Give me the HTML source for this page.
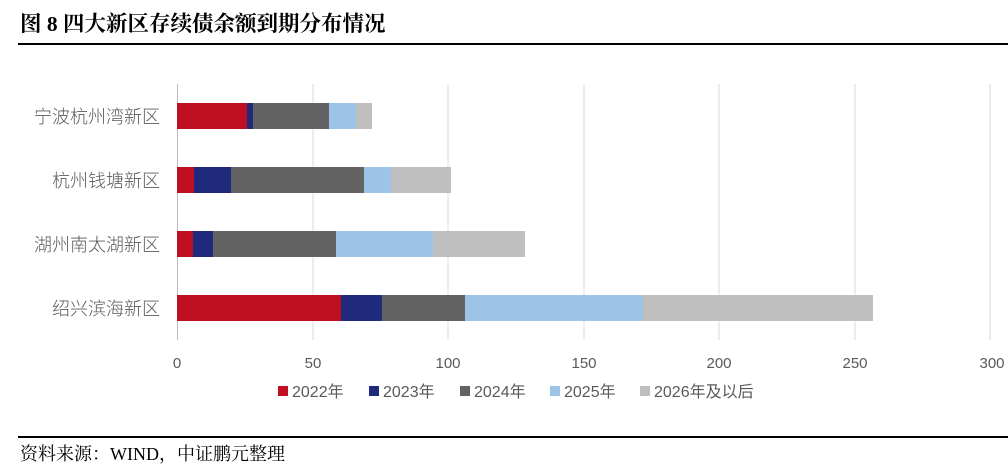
<!DOCTYPE html>
<html><head><meta charset="utf-8"><style>
body{margin:0;width:1008px;height:464px;background:#fff;position:relative;overflow:hidden;font-family:"Liberation Serif","Noto Serif CJK SC",serif}
.t{position:absolute;left:20px;top:7px;font-size:21.5px;font-weight:bold;color:#000}
.l1{position:absolute;left:18px;top:43px;width:990px;height:2px;background:#000}
.l2{position:absolute;left:18px;top:436px;width:990px;height:2px;background:#000}
.s{position:absolute;left:20px;top:440px;font-size:18px;color:#000}
</style></head><body>
<div class="t">图 8 四大新区存续债余额到期分布情况</div>
<div class="l1"></div>
<svg width="1008" height="464" style="position:absolute;left:0;top:0" font-family="Liberation Sans, Noto Sans CJK SC, sans-serif">
<g stroke="#d9d9d9" stroke-width="1">
<line x1="313" y1="84" x2="313" y2="340"/><line x1="448" y1="84" x2="448" y2="340"/><line x1="584" y1="84" x2="584" y2="340"/><line x1="719" y1="84" x2="719" y2="340"/><line x1="855" y1="84" x2="855" y2="340"/><line x1="990" y1="84" x2="990" y2="340"/>
</g>
<line x1="177.5" y1="84" x2="177.5" y2="340" stroke="#bfbfbf"/>
<g>
<rect x="177" y="103" width="70" height="26" fill="#c00f22"/><rect x="247" y="103" width="6" height="26" fill="#1f2a7c"/><rect x="253" y="103" width="76" height="26" fill="#636363"/><rect x="329" y="103" width="27" height="26" fill="#9dc3e6"/><rect x="356" y="103" width="16" height="26" fill="#bfbfbf"/>
<rect x="177" y="167" width="17" height="26" fill="#c00f22"/><rect x="194" y="167" width="37" height="26" fill="#1f2a7c"/><rect x="231" y="167" width="133" height="26" fill="#636363"/><rect x="364" y="167" width="27" height="26" fill="#9dc3e6"/><rect x="391" y="167" width="60" height="26" fill="#bfbfbf"/>
<rect x="177" y="231" width="16" height="26" fill="#c00f22"/><rect x="193" y="231" width="20" height="26" fill="#1f2a7c"/><rect x="213" y="231" width="123" height="26" fill="#636363"/><rect x="336" y="231" width="97" height="26" fill="#9dc3e6"/><rect x="433" y="231" width="92" height="26" fill="#bfbfbf"/>
<rect x="177" y="295" width="164" height="26" fill="#c00f22"/><rect x="341" y="295" width="41" height="26" fill="#1f2a7c"/><rect x="382" y="295" width="83" height="26" fill="#636363"/><rect x="465" y="295" width="178" height="26" fill="#9dc3e6"/><rect x="643" y="295" width="230" height="26" fill="#bfbfbf"/>
</g>
<g font-size="18" fill="#595959" text-anchor="end" font-weight="300">
<text x="160" y="123">宁波杭州湾新区</text><text x="160" y="187">杭州钱塘新区</text><text x="160" y="251">湖州南太湖新区</text><text x="160" y="315">绍兴滨海新区</text>
</g>
<g font-size="15" fill="#595959" text-anchor="middle">
<text x="177" y="368">0</text><text x="313" y="368">50</text><text x="448" y="368">100</text><text x="584" y="368">150</text><text x="719" y="368">200</text><text x="855" y="368">250</text><text x="992" y="368">300</text>
</g>
<g font-size="16" fill="#595959">
<rect x="278" y="386" width="10" height="10" fill="#c00f22"/><text x="292" y="397">2022年</text>
<rect x="369" y="386" width="10" height="10" fill="#1f2a7c"/><text x="383" y="397">2023年</text>
<rect x="460" y="386" width="10" height="10" fill="#636363"/><text x="474" y="397">2024年</text>
<rect x="550" y="386" width="10" height="10" fill="#9dc3e6"/><text x="564" y="397">2025年</text>
<rect x="640" y="386" width="10" height="10" fill="#bfbfbf"/><text x="654" y="397">2026年及以后</text>
</g>
</svg>
<div class="l2"></div>
<div class="s">资料来源：WIND，中证鹏元整理</div>
</body></html>
